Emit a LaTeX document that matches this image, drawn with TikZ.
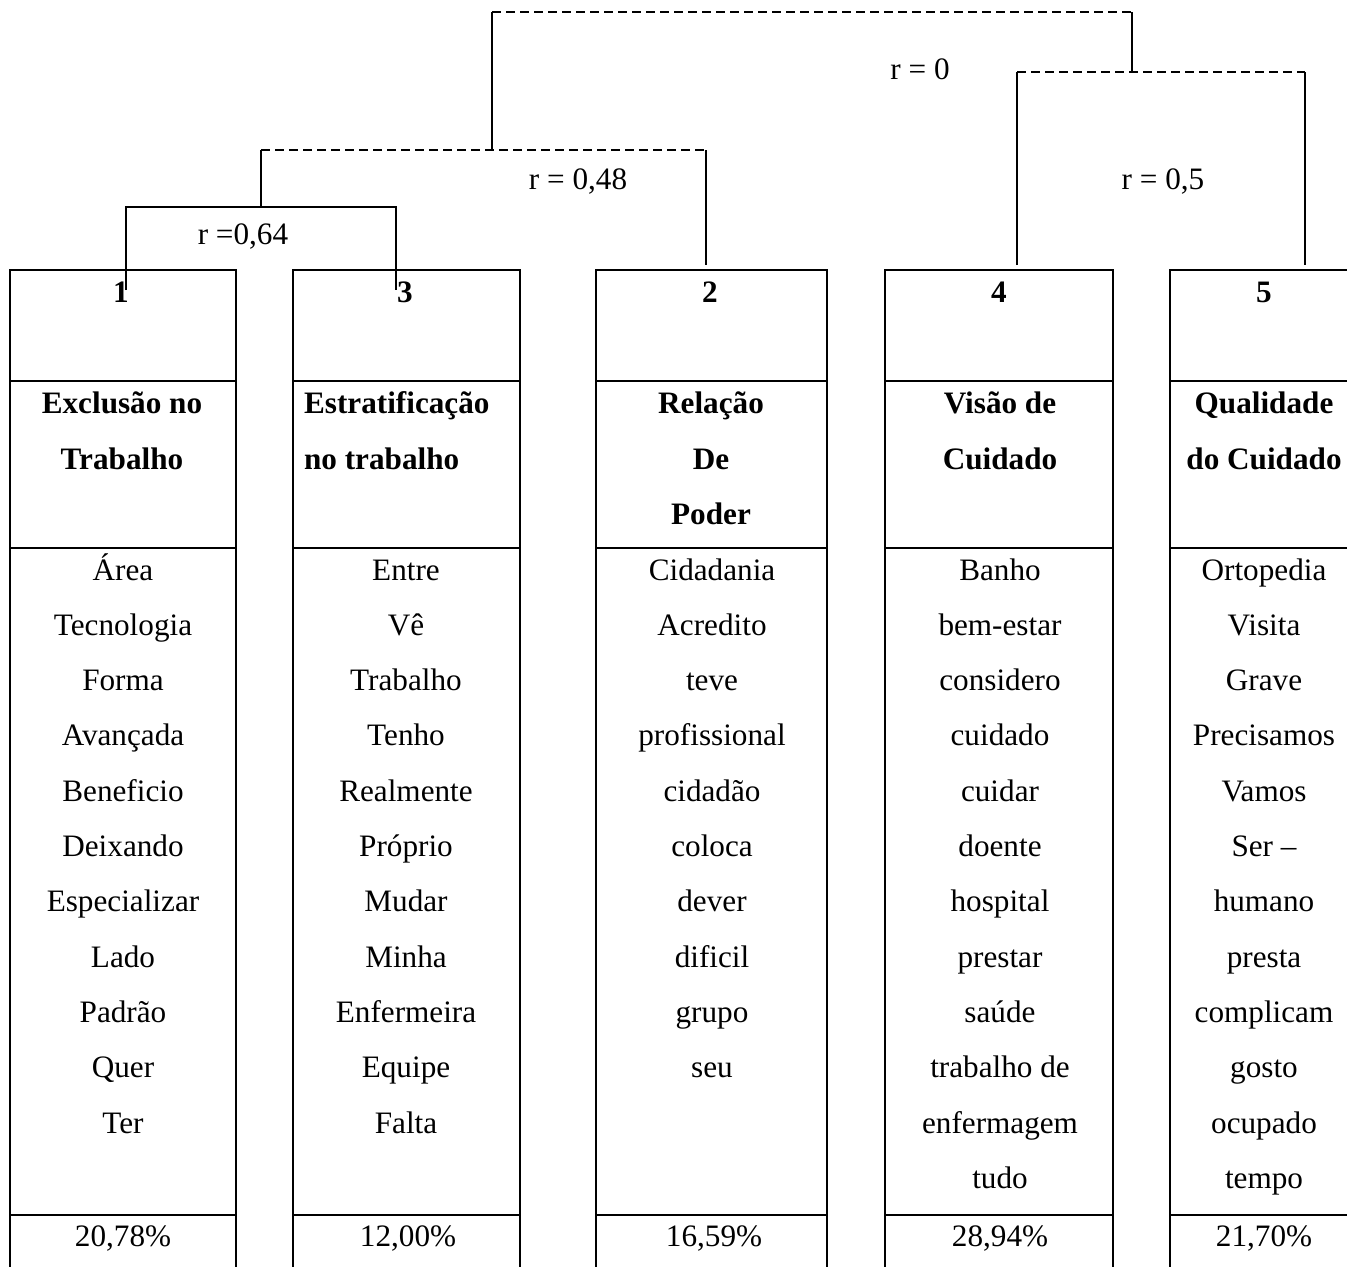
\documentclass[tikz,border=0pt]{standalone}
\usepackage{fontspec}
\setmainfont{Liberation Serif}

\begin{document}
\begin{tikzpicture}[x=0.5pt,y=-0.5pt,line width=1.1pt,
  word/.style={anchor=base,inner sep=0pt,font=\fontsize{15.6}{18}\selectfont},
  head/.style={anchor=base,inner sep=0pt,font=\fontsize{15.6}{18}\selectfont\bfseries},
  link/.style={line width=1.1pt},
  dlink/.style={line width=1.1pt,dash pattern=on 4.5pt off 2.5pt}]
  \useasboundingbox (0,0) rectangle (1347,1266);
  % columns
  \foreach \l/\r in {10/236,293/520,596/827,885/1113,1170/1362}{
    \draw (\l,1272) -- (\l,270) -- (\r,270) -- (\r,1272);
    \draw (\l,381) -- (\r,381) (\l,548) -- (\r,548) (\l,1215) -- (\r,1215);
  }
  % numbers
  \node[head] (k1) at (121,302) {1};
  \node[head] (k3) at (405,302) {3};
  \node[head] (k2) at (710,302) {2};
  \node[head] (k4) at (999,302) {4};
  \node[head] (k5) at (1264,302) {5};
  % titles
  \node[head] (t1a) at (122,413) {Exclusão no};
  \node[head] (t1b) at (122,469) {Trabalho};
  \node[head,anchor=base west] (t3a) at (303,413) {Estratificação};
  \node[head,anchor=base west] (t3b) at (303,469) {no trabalho};
  \node[head] (t2a) at (711,413) {Relação};
  \node[head] (t2b) at (711,469) {De};
  \node[head] (t2c) at (711,524) {Poder};
  \node[head] (t4a) at (1000,413) {Visão de};
  \node[head] (t4b) at (1000,469) {Cuidado};
  \node[head] (t5a) at (1264,413) {Qualidade};
  \node[head] (t5b) at (1264,469) {do Cuidado};
  % words
  \foreach \w [count=\i] in {Área,Tecnologia,Forma,Avançada,Beneficio,Deixando,Especializar,Lado,Padrão,Quer,Ter}
    \node[word] (w1-\i) at (123,{580+55.3*(\i-1)}) {\w};
  \foreach \w [count=\i] in {Entre,Vê,Trabalho,Tenho,Realmente,Próprio,Mudar,Minha,Enfermeira,Equipe,Falta}
    \node[word] (w3-\i) at (406,{580+55.3*(\i-1)}) {\w};
  \foreach \w [count=\i] in {Cidadania,Acredito,teve,profissional,cidadão,coloca,dever,dificil,grupo,seu}
    \node[word] (w2-\i) at (712,{580+55.3*(\i-1)}) {\w};
  \foreach \w [count=\i] in {Banho,bem-estar,considero,cuidado,cuidar,doente,hospital,prestar,saúde,trabalho de,enfermagem,tudo}
    \node[word] (w4-\i) at (1000,{580+55.3*(\i-1)}) {\w};
  \foreach \w [count=\i] in {Ortopedia,Visita,Grave,Precisamos,Vamos,Ser –,humano,presta,complicam,gosto,ocupado,tempo}
    \node[word] (w5-\i) at (1264,{580+55.3*(\i-1)}) {\w};
  % percentages
  \node[word] (p1) at (123,1246) {20,78\%};
  \node[word] (p3) at (408,1246) {12,00\%};
  \node[word] (p2) at (714,1246) {16,59\%};
  \node[word] (p4) at (1000,1246) {28,94\%};
  \node[word] (p5) at (1264,1246) {21,70\%};
  % dendrogram
  \coordinate (a1) at (126,290);
  \coordinate (a3) at (396,290);
  \coordinate (a2) at (706,265);
  \coordinate (a4) at (1017,265);
  \coordinate (a5) at (1305,265);
  \coordinate (m13) at (261,207);
  \coordinate (c48l) at (261,150);
  \coordinate (c48r) at (706,150);
  \coordinate (m48) at (492,150);
  \coordinate (c5l) at (1017,72);
  \coordinate (c5r) at (1305,72);
  \coordinate (m5) at (1132,72);
  \coordinate (c0l) at (492,12);
  \coordinate (c0r) at (1132,12);
  \draw[link] (a1) |- (m13) -| (a3);
  \draw[link] (m13) -- (c48l);
  \draw[dlink] (c48l) -- (c48r);
  \draw[link] (c48r) -- (a2);
  \draw[link] (a4) -- (c5l);
  \draw[dlink] (c5l) -- (c5r);
  \draw[link] (c5r) -- (a5);
  \draw[link] (m48) -- (c0l);
  \draw[dlink] (c0l) -- (c0r);
  \draw[link] (c0r) -- (m5);
  % labels
  \node[word] (r64) at (243,244) {r =0,64};
  \node[word] (r48) at (578,189) {r = 0,48};
  \node[word] (r0) at (920,79) {r = 0};
  \node[word] (r5) at (1163,189) {r = 0,5};
\end{tikzpicture}
\end{document}
